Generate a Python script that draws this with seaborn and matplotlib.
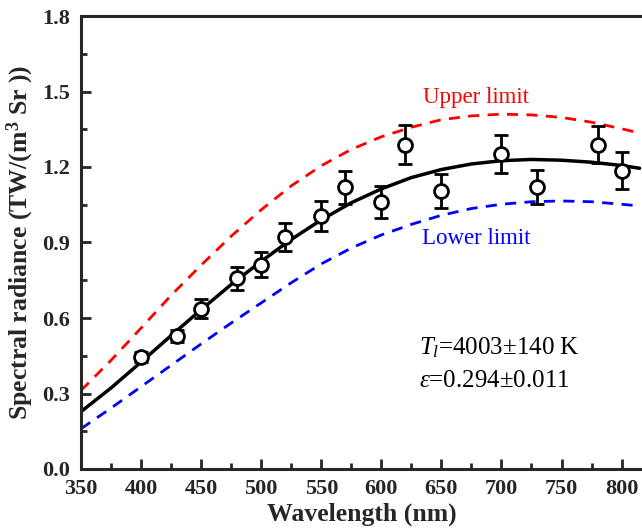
import numpy as np
import pandas as pd
import matplotlib
matplotlib.use("Agg")
import matplotlib.pyplot as plt
import seaborn as sns

# ---- data ----
wl_points = [400, 430, 450, 480, 500, 520, 550, 570, 600, 620, 650, 700, 730, 780, 800]
radiance = [0.446, 0.529, 0.637, 0.757, 0.811, 0.921, 1.005, 1.119, 1.062, 1.289,
            1.106, 1.253, 1.122, 1.289, 1.186]
radiance_err = [0.02, 0.025, 0.038, 0.045, 0.05, 0.055, 0.06, 0.067, 0.064, 0.078,
                0.067, 0.076, 0.068, 0.074, 0.072]

wl_curve = [350, 375, 400, 425, 450, 475, 500, 525, 550, 575, 600, 625, 650,
            675, 700, 725, 750, 775, 800, 815]
fit_curve = [0.228, 0.322, 0.425, 0.53, 0.633, 0.733, 0.825, 0.912, 0.99, 1.058,
             1.113, 1.158, 1.19, 1.212, 1.225, 1.23, 1.227, 1.219, 1.206, 1.195]
upper_curve = [0.312, 0.432, 0.56, 0.69, 0.81, 0.925, 1.03, 1.125, 1.205, 1.27,
               1.32, 1.358, 1.388, 1.403, 1.41, 1.407, 1.397, 1.378, 1.352, 1.335]
lower_curve = [0.16, 0.242, 0.327, 0.412, 0.497, 0.58, 0.66, 0.74, 0.815, 0.878,
               0.93, 0.972, 1.008, 1.035, 1.052, 1.062, 1.065, 1.062, 1.052, 1.045]

xticks = [350, 400, 450, 500, 550, 600, 650, 700, 750, 800]
yticks = [0.0, 0.3, 0.6, 0.9, 1.2, 1.5, 1.8]

sns.set_style("ticks")
plt.rcParams['font.family'] = ['Liberation Serif', 'DejaVu Serif']
plt.rcParams['mathtext.fontset'] = 'custom'
plt.rcParams['mathtext.rm'] = 'Liberation Serif'
plt.rcParams['mathtext.it'] = 'Liberation Serif:italic'
plt.rcParams['mathtext.bf'] = 'Liberation Serif:bold'

fig = plt.figure(figsize=(6.42, 5.30), dpi=100)
ax = fig.add_axes([81/642, 61/530, 1 - 81/642, (469-16)/530])

curves = pd.DataFrame({"wl": wl_curve, "fit": fit_curve,
                       "upper": upper_curve, "lower": lower_curve})
sns.lineplot(data=curves, x="wl", y="upper", ax=ax, color="#ff0000", lw=2.0,
             linestyle=(0, (4, 3)))
sns.lineplot(data=curves, x="wl", y="lower", ax=ax, color="#0000ff", lw=2.0,
             linestyle=(0, (4, 3)))
sns.lineplot(data=curves, x="wl", y="fit", ax=ax, color="black", lw=2.5)

ax.errorbar(wl_points, radiance, yerr=radiance_err, fmt='o', mfc='white',
            mec='black', mew=2.0, ms=10, ecolor='black', elinewidth=2.0,
            capsize=5, capthick=2.0, zorder=5)

ax.set_xlim(350, 817)
ax.set_ylim(0, 1.8)
ax.set_xticks(xticks)
ax.set_yticks(yticks)
ax.set_xticks(np.arange(375, 817, 50), minor=True)
ax.set_yticks(np.arange(0.15, 1.8, 0.3), minor=True)
ax.set_xticklabels([str(v) for v in xticks], fontsize=16, fontweight='bold')
ax.set_yticklabels([f"{v:.1f}" for v in yticks], fontsize=16, fontweight='bold')
ax.tick_params(which='major', direction='in', length=7, width=2)
ax.tick_params(axis='x', which='major', pad=7)
ax.tick_params(axis='y', which='major', pad=8)
ax.tick_params(which='minor', direction='in', length=4, width=2)
ax.tick_params(top=False, right=False, which='both')

for side in ['left', 'bottom', 'top']:
    ax.spines[side].set_linewidth(2.2)
ax.spines['right'].set_visible(False)

ax.set_xlabel("Wavelength (nm)", fontsize=18.5, fontweight='bold', labelpad=3)
ax.set_ylabel(r"Spectral radiance (TW/(m$^\mathbf{3}$ Sr ))", fontsize=18.5,
              fontweight='bold', labelpad=4)

ax.text(679, 1.478, "Upper limit", color="#ff0000", fontsize=16.5, ha='center', va='center')
ax.text(679, 0.914, "Lower limit", color="#0000ff", fontsize=16.5, ha='center', va='center')
ax.text(631, 0.481, r"$T_l$=4003±140 K", color="black", fontsize=18, ha='left', va='center')
ax.text(631, 0.35, r"$\varepsilon$=0.294±0.011", color="black", fontsize=18, ha='left', va='center')

fig.savefig("out.png", dpi=100)
